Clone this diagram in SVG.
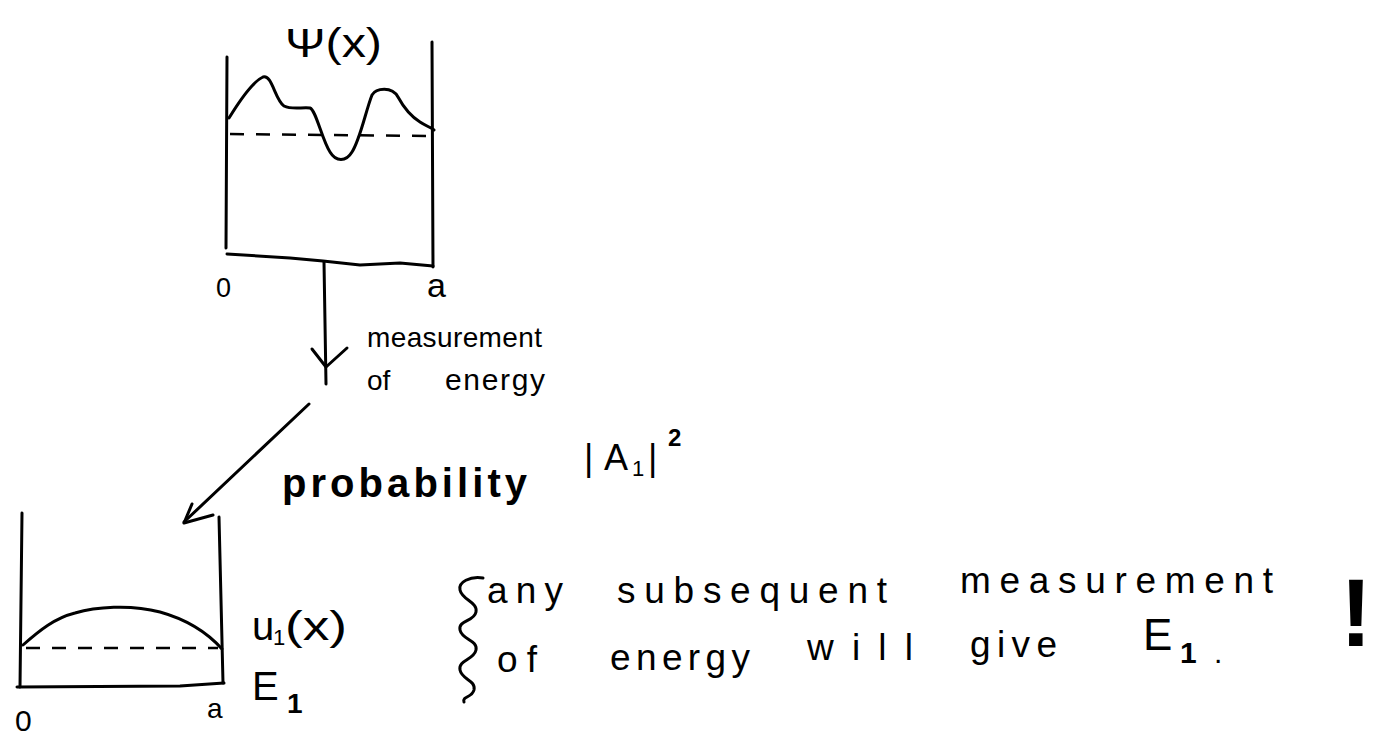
<svg xmlns="http://www.w3.org/2000/svg" width="1381" height="742" viewBox="0 0 1381 742">
<style>
.ln{fill:none;stroke:#000;stroke-width:3;stroke-linecap:round;stroke-linejoin:round}
.dash{fill:none;stroke:#000;stroke-width:2.5;stroke-dasharray:14 12}
.t{font-family:"Liberation Sans",Arial,sans-serif;fill:#000}
.b{font-weight:bold}
.s{font-size:37px}
</style>
<rect width="1381" height="742" fill="#fff"/>
<g id="top-well">
  <path class="ln" d="M227,57 L226,248"/>
  <path class="ln" d="M432,42 L433,267"/>
  <path class="ln" d="M227,254 L290,258 L323,261 L360,265 L400,263 L433,266"/>
  <path class="ln" d="M229,118 C240,100 252,82 263,77 C272,74 275,100 284,106 C292,110 302,107 310,108 C316,110 322,140 330,152 C336,162 346,162 352,152 C360,140 366,110 372,95 C376,88 392,86 398,97 C404,108 412,117 420,122 C426,126 432,128 434,130"/>
  <line class="dash" x1="230" y1="134" x2="432" y2="136"/>
  <text class="t" x="285" y="57" font-size="40" textLength="97" lengthAdjust="spacingAndGlyphs">Ψ(x)</text>
  <text class="t" x="216" y="297" font-size="27">0</text>
  <text class="t" x="427" y="297" font-size="34">a</text>
</g>
<g id="connectors">
  <path class="ln" d="M324,262 L326,384"/>
  <path class="ln" d="M312,349 L326,367 L347,348" stroke-width="4"/>
  <path class="ln" d="M309,404 L184,522"/>
  <path class="ln" d="M192,504 L184,523 L213,515"/>
</g>
<g id="measurement-label">
  <text class="t" x="367" y="347" font-size="28" textLength="175" lengthAdjust="spacing">measurement</text>
  <text class="t" x="367" y="390" font-size="28">of</text>
  <text class="t" x="445" y="390" font-size="30" textLength="100" lengthAdjust="spacing">energy</text>
</g>
<g id="probability-label">
  <text class="t b" x="282" y="497" font-size="40" textLength="245" lengthAdjust="spacing">probability</text>
  <text class="t" font-size="36">
    <tspan x="584" y="470">|</tspan><tspan x="604" y="470">A</tspan><tspan x="632" y="476" font-size="22">1</tspan><tspan x="648" y="470">|</tspan><tspan x="668" y="446" font-size="24" font-weight="bold">2</tspan>
  </text>
</g>
<g id="bottom-well">
  <path class="ln" d="M22,513 L20,687"/>
  <path class="ln" d="M219,517 L223,683"/>
  <path class="ln" d="M17,687 L180,686 L224,683"/>
  <path class="ln" d="M23,645 C40,630 55,618 75,613 C95,607 130,604 160,612 C185,619 205,630 222,649"/>
  <line class="dash" x1="26" y1="648" x2="218" y2="648" stroke-dasharray="0 31 15 21 40 20 10 24 16 40"/>
  <text class="t" x="252" y="640" font-size="40">u</text>
  <text class="t" x="273" y="645" font-size="22">1</text>
  <text class="t" x="285" y="640" font-size="40" textLength="62" lengthAdjust="spacingAndGlyphs">(x)</text>
  <text class="t" x="252" y="700" font-size="40">E</text>
  <text class="t b" x="287" y="713" font-size="28">1</text>
  <text class="t" x="15" y="731" font-size="30">0</text>
  <text class="t" x="207" y="718" font-size="28">a</text>
</g>
<g id="statement">
  <path class="ln" d="M483,578 C470,576 458,582 460,590 C462,600 478,602 476,612 C474,622 458,620 460,630 C462,640 478,640 476,650 C474,660 458,660 460,670 C462,680 476,680 474,690 C472,698 462,696 464,702"/>
  <text class="t s" x="487" y="603" textLength="76" lengthAdjust="spacing">any</text>
  <text class="t s" x="617" y="603" textLength="270" lengthAdjust="spacing">subsequent</text>
  <text class="t s" x="960" y="593" textLength="313" lengthAdjust="spacing">measurement</text>
  <text class="t b" x="1356" y="646" font-size="96" text-anchor="middle">!</text>
  <text class="t s" x="497" y="672" textLength="40" lengthAdjust="spacing">of</text>
  <text class="t s" x="610" y="670" textLength="140" lengthAdjust="spacing">energy</text>
  <text class="t s" x="807" y="660" textLength="106" lengthAdjust="spacing">will</text>
  <text class="t s" x="970" y="657" textLength="87" lengthAdjust="spacing">give</text>
  <text class="t" x="1143" y="650" font-size="44">E</text>
  <text class="t b" x="1180" y="663" font-size="30">1</text>
  <text class="t" x="1214" y="663" font-size="30">.</text>
</g>
</svg>
